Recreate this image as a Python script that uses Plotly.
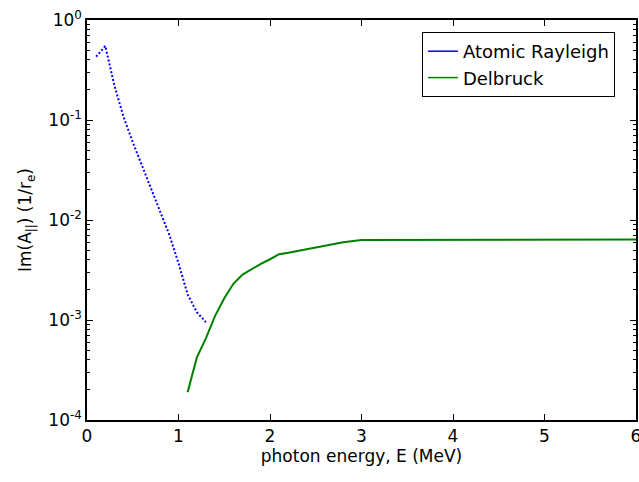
import plotly.graph_objects as go

# Atomic Rayleigh (blue dotted)
ray_x = [0.1, 0.2, 0.3, 0.4, 0.5, 0.6, 0.7, 0.8, 0.9, 1.0, 1.1, 1.2, 1.3]
ray_y = [0.43, 0.55, 0.22, 0.107, 0.060, 0.035, 0.020, 0.012, 0.0071, 0.0037, 0.0018, 0.0012, 0.00095]

# Delbruck (green solid)
del_x = [1.1, 1.2, 1.3, 1.4, 1.5, 1.6, 1.7, 1.8, 1.9, 2.0, 2.1, 2.2, 2.4, 2.6, 2.8, 3.0, 3.5, 4.0, 4.5, 5.0, 5.5, 6.0]
del_y = [1.9e-4, 4.2e-4, 6.6e-4, 1.1e-3, 1.65e-3, 2.3e-3, 2.85e-3, 3.25e-3, 3.65e-3, 4.05e-3, 4.55e-3, 4.7e-3, 5.1e-3, 5.6e-3, 6.0e-3, 6.3e-3, 6.3e-3, 6.35e-3, 6.4e-3, 6.4e-3, 6.4e-3, 6.4e-3]

x_ticks = [0, 1, 2, 3, 4, 5, 6]
y_ticks = [1e-4, 1e-3, 1e-2, 1e-1, 1e0]
y_ticktext = ["10<sup>-4</sup>", "10<sup>-3</sup>", "10<sup>-2</sup>", "10<sup>-1</sup>", "10<sup>0</sup>"]

BLUE = "rgb(0,0,255)"
GREEN = "rgb(0,128,0)"
FONT = "DejaVu Sans"

fig = go.Figure()
fig.add_trace(go.Scatter(x=ray_x, y=ray_y, mode="lines", showlegend=False,
                         line=dict(color=BLUE, width=2, dash="2px,2px")))
fig.add_trace(go.Scatter(x=del_x, y=del_y, mode="lines", showlegend=False,
                         line=dict(color=GREEN, width=2)))
# legend entries (solid lines)
fig.add_trace(go.Scatter(x=[None], y=[None], mode="lines", name="Atomic Rayleigh",
                         line=dict(color=BLUE, width=1.5)))
fig.add_trace(go.Scatter(x=[None], y=[None], mode="lines", name="Delbruck",
                         line=dict(color=GREEN, width=1.5)))

axis_common = dict(showline=True, linecolor="black", linewidth=1.5, mirror="allticks",
                   ticks="inside", tickcolor="black", showgrid=False, zeroline=False,
                   ticklabeloverflow="allow", automargin=False,
                   tickfont=dict(family=FONT, size=17, color="black"))

fig.update_layout(
    width=639, height=482,
    margin=dict(l=87, r=3, t=20, b=62),
    paper_bgcolor="white", plot_bgcolor="white",
    font=dict(family=FONT, size=17, color="black"),
    xaxis=dict(range=[0, 6], tickvals=x_ticks, ticklen=6,
               title=dict(text="photon energy, E (MeV)", standoff=2,
                          font=dict(family=FONT, size=17)),
               **axis_common),
    yaxis=dict(type="log", range=[-4, 0], tickvals=y_ticks, ticktext=y_ticktext, ticklen=6,
               minor=dict(ticks="inside", ticklen=3, tickcolor="black", dtick="D1"),
               title=dict(text="Im(A<sub>||</sub>) (1/r<sub>e</sub>)", standoff=12,
                          font=dict(family=FONT, size=17)),
               **axis_common),
    legend=dict(x=0.61, y=0.97, xanchor="left", yanchor="top",
                bgcolor="white", bordercolor="black", borderwidth=1,
                font=dict(family=FONT, size=18), tracegroupgap=0),
)

fig.write_html("out.html")
